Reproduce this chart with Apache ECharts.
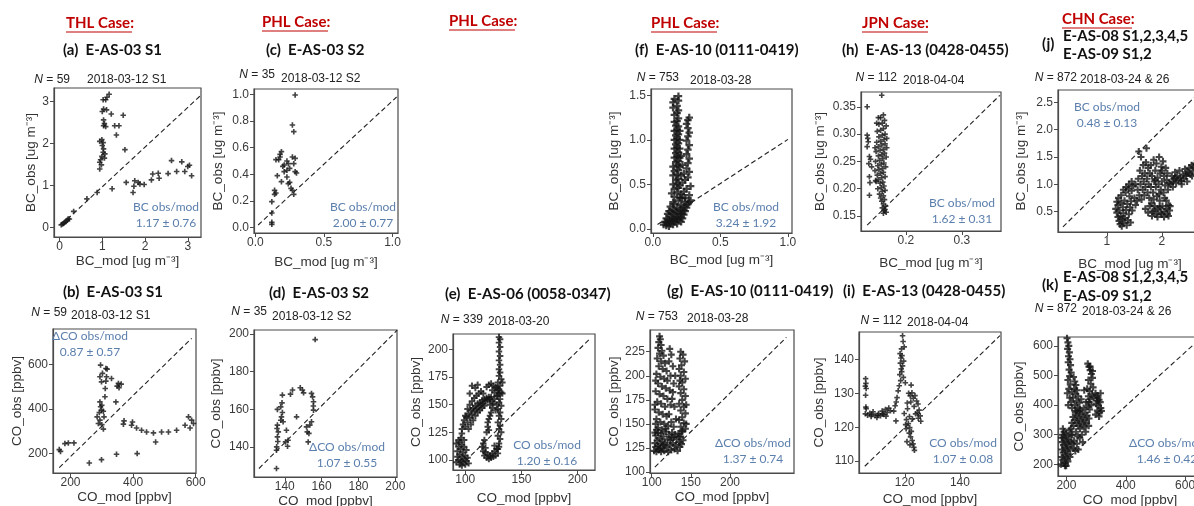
<!DOCTYPE html>
<html>
<head>
<meta charset="utf-8">
<script src="https://cdn.jsdelivr.net/npm/echarts@6/dist/echarts.min.js"></script>
<style>
  html, body { margin: 0; padding: 0; background: #fff; }
  #main { width: 1194px; height: 506px; }
</style>
</head>
<body>
<div id="main"></div>
<script>
const ptsA = [[0.04,0.06],[0.07,0.08],[0.1,0.1],[0.12,0.12],[0.15,0.14],[0.18,0.17],[0.2,0.2],[0.23,0.2],[0.33,0.38],[0.64,0.68],[0.88,0.83],[0.94,1.39],
  [1.02,3.04],[1.08,3.04],[1.11,3.1],[1.16,3.17],[1.03,2.82],[1.1,2.8],[1.0,2.76],[1.21,2.7],[1.49,2.67],[1.03,2.56],[1.05,2.47],[1.08,2.4],[1.03,2.42],[1.29,2.42],[1.39,2.42],[1.33,2.2],[0.99,2.09],[0.94,2.05],[1.02,2.02],[1.53,1.85],[1.03,1.87],[1.02,1.79],[1.06,1.75],[0.99,1.69],[0.96,1.61],[0.94,1.55],[0.98,1.49],[1.05,1.65],[1.0,1.95],
  [1.23,0.92],[1.56,1.07],[1.74,0.98],[1.76,1.11],[1.84,1.07],[1.88,1.03],[1.72,0.83],[1.98,1.02],[2.15,1.13],[2.18,1.27],[2.31,1.29],[2.33,1.17],[2.54,1.28],[2.62,1.59],[2.74,1.33],[2.86,1.56],[2.93,1.33],[3.0,1.45],[3.04,1.48],[3.09,1.23]];
const ptsC = [[0.29,0.995],[0.27,0.77],[0.28,0.72],[0.19,0.57],[0.18,0.55],[0.18,0.53],[0.17,0.51],[0.15,0.51],[0.27,0.53],[0.29,0.52],[0.28,0.48],[0.23,0.5],[0.24,0.48],[0.21,0.47],[0.2,0.46],[0.25,0.445],[0.23,0.43],[0.21,0.42],[0.29,0.42],[0.3,0.41],[0.16,0.39],[0.23,0.38],[0.19,0.345],[0.25,0.34],[0.24,0.33],[0.26,0.295],[0.27,0.28],[0.28,0.25],[0.14,0.28],[0.15,0.26],[0.14,0.25],[0.12,0.195],[0.12,0.11],[0.12,0.04],[0.12,0.025]];
const ptsF = [[0.08,0.05],[0.09,0.08],[0.1,0.04],[0.1,0.12],[0.11,0.07],[0.11,0.17],[0.12,0.03],[0.12,0.1],[0.12,0.2],[0.13,0.06],[0.13,0.14],[0.13,0.25],[0.14,0.09],[0.14,0.18],[0.15,0.05],[0.15,0.12],[0.15,0.22],[0.16,0.08],[0.16,0.16],[0.16,0.28],[0.17,0.11],[0.17,0.2],[0.18,0.06],[0.18,0.14],[0.18,0.24],[0.19,0.1],[0.19,0.18],[0.2,0.13],[0.2,0.22],[0.21,0.08],[0.21,0.17],[0.21,0.27],[0.22,0.12],[0.22,0.21],[0.23,0.16],[0.23,0.25],[0.24,0.2],[0.24,0.3],[0.25,0.24],[0.26,0.28],[0.27,0.3],[0.28,0.32],
  [0.15,0.3],[0.19,0.32],[0.16,0.36],[0.2,0.35],[0.14,0.4],[0.18,0.41],[0.21,0.39],[0.16,0.45],[0.19,0.46],[0.15,0.5],[0.18,0.51],[0.2,0.49],[0.17,0.55],[0.19,0.56],[0.15,0.6],[0.18,0.61],[0.21,0.6],[0.16,0.65],[0.19,0.66],[0.15,0.7],[0.18,0.71],[0.2,0.7],[0.17,0.75],[0.19,0.76],[0.16,0.8],[0.18,0.81],[0.2,0.8],[0.17,0.85],[0.19,0.86],[0.16,0.9],[0.18,0.91],[0.2,0.9],[0.17,0.95],[0.19,0.96],[0.16,1.0],[0.18,1.01],[0.2,1.0],[0.17,1.05],[0.19,1.06],[0.16,1.1],[0.18,1.11],[0.2,1.1],[0.17,1.16],[0.19,1.15],[0.16,1.2],[0.18,1.21],[0.19,1.24],[0.16,1.28],[0.18,1.3],[0.19,1.33],[0.15,1.36],[0.18,1.38],[0.15,1.42],[0.19,1.44],[0.16,1.46],[0.19,1.49],
  [0.24,0.35],[0.27,0.38],[0.25,0.45],[0.28,0.48],[0.24,0.55],[0.26,0.58],[0.27,0.64],[0.25,0.68],[0.26,0.74],[0.27,0.79],[0.25,0.84],[0.26,0.89],[0.27,0.94],[0.25,0.99],[0.26,1.04],[0.27,1.08],[0.26,1.13],[0.25,1.18],[0.26,1.22],[0.27,1.25],[0.22,0.35],[0.23,0.42],[0.22,0.52],[0.23,0.62],[0.22,0.72],[0.21,0.82]];
const ptsH = [[0.131,0.35],[0.131,0.298],[0.132,0.292],[0.133,0.286],[0.131,0.277],[0.135,0.259],[0.137,0.254],[0.134,0.246],[0.139,0.24],[0.135,0.222],[0.136,0.211],[0.135,0.188],[0.157,0.371],
  [0.16,0.335],[0.155,0.33],[0.162,0.325],[0.158,0.32],[0.152,0.318],[0.165,0.315],[0.16,0.31],[0.155,0.307],[0.149,0.305],[0.163,0.3],[0.158,0.298],[0.152,0.295],[0.166,0.292],[0.161,0.29],[0.155,0.287],[0.148,0.285],[0.163,0.282],[0.157,0.28],[0.151,0.277],[0.166,0.275],[0.16,0.272],[0.154,0.27],[0.147,0.268],[0.162,0.265],[0.157,0.262],[0.151,0.26],[0.165,0.258],[0.159,0.255],[0.153,0.252],[0.146,0.25],[0.161,0.247],[0.156,0.245],[0.15,0.242],[0.164,0.24],[0.158,0.237],[0.152,0.235],[0.145,0.233],[0.16,0.23],[0.155,0.228],[0.149,0.225],[0.163,0.222],[0.157,0.22],[0.151,0.217],[0.147,0.213],[0.159,0.212],[0.154,0.21],[0.161,0.205],[0.156,0.202],[0.15,0.2],[0.163,0.197],[0.158,0.195],[0.153,0.19],[0.16,0.187],[0.155,0.183],[0.162,0.18],[0.157,0.177],[0.16,0.172],[0.164,0.168],[0.158,0.165],[0.161,0.16],[0.165,0.157],[0.16,0.155],[0.163,0.162],[0.145,0.275],[0.146,0.215],[0.148,0.32],[0.151,0.33]];
const ptsJ = [[1.16,0.55],[1.18,0.48],[1.18,0.68],[1.2,0.4],[1.2,0.62],[1.21,0.75],[1.22,0.33],[1.23,0.52],[1.24,0.27],[1.25,0.42],[1.25,0.66],[1.26,0.8],[1.27,0.23],[1.28,0.36],[1.29,0.58],[1.3,0.29],[1.3,0.47],[1.32,0.7],[1.33,0.38],[1.34,0.85],[1.35,0.53],[1.36,0.25],[1.37,0.64],[1.38,0.34],[1.39,0.92],[1.4,0.45],[1.41,0.78],[1.42,0.58],[1.43,0.3],[1.44,0.69],[1.45,0.88],[1.46,0.52],[1.48,0.97],[1.5,0.75],[1.52,0.62],[1.52,1.0],[1.35,0.95],[1.4,1.0],[1.3,0.9],[1.45,1.05],
  [1.55,0.7],[1.56,0.9],[1.57,1.1],[1.58,1.6],[1.59,0.8],[1.6,1.25],[1.61,1.0],[1.62,1.5],[1.63,0.72],[1.64,1.15],[1.65,0.9],[1.66,1.35],[1.67,1.05],[1.68,0.8],[1.69,1.2],[1.7,0.95],[1.71,1.4],[1.72,1.66],[1.73,1.1],[1.74,0.85],[1.75,1.3],[1.76,1.0],[1.77,0.75],[1.78,1.2],
  [1.8,0.95],[1.8,1.35],[1.81,0.65],[1.82,1.15],[1.83,0.5],[1.84,0.85],[1.85,1.45],[1.86,1.05],[1.87,0.6],[1.88,1.25],[1.89,0.95],[1.9,0.45],[1.9,1.38],[1.91,0.78],[1.92,1.12],[1.93,0.55],[1.94,1.0],[1.95,1.5],[1.96,0.7],[1.97,1.2],[1.98,0.48],[1.98,0.9],[1.99,1.32],[2.0,1.05],[2.01,0.6],[2.02,1.42],[2.03,0.85],[2.04,1.15],[2.05,0.5],[2.06,0.98],[2.07,1.3],[2.08,0.7],[2.09,1.08],[2.1,0.45],[2.1,1.2],[2.11,0.9],[2.12,0.62],[2.13,1.02],[2.14,0.52],
  [1.7,0.55],[1.75,0.48],[1.78,0.6],[1.82,0.42],[1.86,0.52],[1.92,0.4],[1.96,0.58],[2.0,0.45],[2.04,0.4],[2.08,0.55],[2.12,0.42],[2.15,0.6],
  [2.16,1.0],[2.18,1.15],[2.2,0.95],[2.22,1.1],[2.24,1.22],[2.26,1.02],[2.28,1.15],[2.3,1.08],[2.32,1.25],[2.34,1.12],[2.36,1.0],[2.38,1.18],[2.4,1.1],[2.42,1.28],[2.44,1.15],[2.46,1.05],[2.48,1.22],[2.5,1.3],[2.52,1.18],[2.54,1.35],[2.56,1.25],[2.58,1.32],[2.6,1.38],
  [2.2,1.05],[2.25,1.12],[2.35,1.06],[2.45,1.2],[2.55,1.15],[1.85,0.72],[1.95,0.82],[2.05,0.75],[1.88,1.08],[2.0,1.25]];
const ptsB = [[164,218],[168,210],[182,245],[193,248],[211,248],[260,158],[299,173],[347,197],[413,200],[472,252],
  [289,335],[294,350],[285,365],[292,384],[299,395],[305,390],[296,410],[300,417],[294,432],[307,365],[299,522],[294,545],[302,560],[313,582],[317,579],[296,597],[315,545],[313,525],[311,492],[310,455],[331,537],[349,503],[355,496],[345,432],[353,515],[362,512],
  [371,347],[369,332],[395,327],[398,342],[411,315],[427,305],[443,297],[465,293],[491,297],[513,297],[539,305],[566,327],[582,315],[593,335],[577,365],[587,350],[305,310],[300,330]];
const ptsD = [[156.5,197],[136,160],[138.7,167.6],[138.5,163.5],[137.8,161.4],[144.2,170.3],[143.1,168.1],[148.4,171.5],[149.6,170.3],[150.2,168.8],[154.5,168.5],[155.1,166.7],[155.6,164.1],[155.5,161.8],[155.6,159.6],[136,151.7],[135.8,149.9],[136.5,148.1],[136,145.5],[136.2,143],[135.6,140.2],[135.5,138.4],[135.5,128.7],[138.7,158.4],[138.2,156.1],[137.8,154.3],[139.1,153.5],[140.9,149],[141.8,143.7],[140.4,142.8],[141.5,140.5],[146.4,156.1],[151.8,150.8],[152.2,148.1],[153.6,151.7],[153.1,147.3],[154.5,153.5],[152.7,142.8]];
const ptsE = [[92,98],[93,103],[93,108],[94,100],[94,112],[95,96],[95,105],[95,116],[96,99],[96,110],[96,120],[97,95],[97,103],[97,114],[98,98],[98,107],[99,101],[99,112],[100,96],[100,104],[101,99],[101,109],[102,102],[103,97],[94,118],[97,124],[99,118],[92,115],
  [97,128],[98,132],[99,136],[100,130],[101,139],[102,134],[103,142],[104,138],[105,145],[106,141],[107,147],[108,144],[109,149],[110,146],[111,151],[112,148],[113,152],[114,150],[115,154],[116,151],[117,155],[118,153],[119,156],[120,154],[121,157],[122,155],[123,157],
  [100,140],[102,146],[104,150],[106,153],[108,156],[110,158],[112,160],[114,162],[116,160],[103,128],[105,132],[107,136],[109,140],[111,143],[113,145],[115,147],[117,149],
  [106,167],[109,165],[111,168],[104,160],[119,166],[121,168],[123,169],[125,167],[127,166],[129,163],[130,160],[128,158],[126,161],[124,163],
  [126,155],[125,151],[124,147],[123,143],[122,140],[121,137],[120,134],[120,130],[121,127],[119,125],[122,150],[124,153],
  [115,112],[116,108],[117,104],[118,107],[119,102],[120,105],[121,101],[122,104],[123,102],[124,106],[125,103],[126,108],[127,104],[128,110],[129,106],[130,112],[118,111],[116,115],[117,118],[126,113],
  [129,110],[130,115],[131,119],[129,122],[132,125],[130,128],[131,131],[129,134],[132,137],[130,140],[131,143],[129,146],[132,149],[130,152],[131,155],[129,158],[132,161],[130,164],[131,167],[129,170],[132,173],[130,176],[131,179],[130,182],[131,186],[130,190],[131,194],[130,198],[131,202],[130,206],[131,209],[130,211],[128,150],[127,145],[133,160],[133,170],[128,165]];
const ptsG = [[103,122],[104,130],[105,126],[105,138],[106,121],[107,133],[108,127],[108,141],[109,123],[110,135],[111,129],[112,121],[112,140],[113,132],[114,125],[115,137],[116,122],[117,130],[118,142],[119,126],[120,134],[121,121],[122,139],[123,128],[124,133],[125,123],[126,141],[127,130],[128,136],[129,124],[130,139],[131,128],[132,134],[133,122],[134,140],[135,131],[136,126],[137,137],[138,129],[139,142],[140,133],[104,141],[106,144],[110,124],[115,128],[125,136],[135,137],
  [110,241],[111,238],[109,235],[112,232],[108,229],[113,226],[110,223],[115,221],[107,218],[112,215],[117,213],[109,210],[114,207],[119,205],[106,202],[111,199],[116,197],[120,195],[108,192],[113,189],[118,187],[105,184],[110,181],[115,179],[120,176],[107,173],[112,171],[117,168],[104,165],[109,162],[114,160],[119,158],[106,155],[111,152],[116,150],[121,148],[108,146],[113,144],[118,145],[105,150],[104,170],[105,195],
  [123,228],[125,222],[122,215],[127,210],[124,200],[128,192],[123,185],[126,176],[129,168],[122,160],[125,152],[128,147],[131,155],[124,170],[127,183],[130,200],
  [137,225],[140,222],[136,218],[142,215],[138,211],[135,207],[141,204],[137,200],[143,197],[139,193],[135,189],[141,186],[137,182],[143,179],[139,175],[135,171],[141,168],[137,164],[143,161],[139,157],[135,154],[141,151],[137,147],[143,145],[139,143],[144,150],[144,170],[136,195]];
const ptsI = [[105.8,134.4],[105.9,133],[105.7,132.2],[106,131.5],[105.8,129.5],[105.9,126],[106,125.5],[105.7,124],
  [106.5,123.6],[107.3,124.2],[107.8,123.2],[108.5,124.6],[109.2,123.5],[109.9,122.9],[110.5,124.1],[111.2,123.4],[111.8,124.8],[112.4,123.8],[113,125.3],[113.6,124.4],[114.2,125.7],[114.8,124.9],[108,123.8],[110.2,123.6],[112,124],[113.2,123.3],
  [119.2,147.1],[119.4,145.4],[118.8,143.2],[119,141.2],[118.6,140.5],[118.4,139],[119.2,138.2],[118.7,137.3],[118.9,136.5],[118.2,135.6],[119.5,134.8],[118.5,133.8],[118,132.3],[117.6,130.8],[117.2,128.8],[116.9,127.5],[116.5,126.4],[116,124.8],[116.8,121.9],[119.6,139.6],[118.3,141.8],[119.8,143.8],
  [120.2,133.2],[121.4,130.1],[122,129.3],[122.6,130.2],[123.1,128.6],[123.7,129.4],[124.3,127.8],[124.8,126.9],[125.2,125.1],[125.6,123.4],[124.6,124.4],[123.4,126.2],[122.2,127.5],[121,125.5],[120.6,122.3],[121.3,121.1],[121.8,119.9],[120.5,119.6],[121.6,118.3],[122.1,117.2],[122.7,116.1],[123,115.1],[123.3,114.1],[123.5,113.2],[122.4,118.8],[120.8,115.8],[121.9,114.8],[125.8,121.8],[124.9,122.7],[123.9,124],[122.8,122.5],[121.7,123.2],[120.3,120.8],[119.8,124.1],[120.9,127.2],[122.3,132.5]];
const ptsK = [[182,200],[184,225],[185,250],[186,275],[187,300],[188,215],[189,240],[190,265],[191,290],[192,310],[194,205],[195,230],[196,255],[197,280],[198,305],[199,195],[200,220],[201,245],[202,270],[203,295],[205,210],[206,235],[207,260],[208,285],[210,315],[212,225],[213,250],[214,275],[216,300],[184,290],[188,320],[195,195],
  [202,626],[205,612],[208,600],[204,590],[210,578],[207,565],[212,555],[206,545],[214,535],[209,520],[216,510],[211,498],[205,485],[213,470],[208,455],[218,445],[203,440],[211,425],[216,410],[206,400],[219,390],
  [224,495],[228,480],[232,468],[226,455],[236,450],[230,438],[240,430],[222,425],[234,415],[244,408],[228,400],[238,392],[246,385],[232,380],
  [215,320],[218,340],[220,300],[222,360],[224,330],[226,280],[228,350],[230,375],[232,310],[234,340],[236,365],[238,295],[240,330],[242,355],[244,380],[246,320],[248,345],[250,370],[252,300],[254,335],[256,360],[258,390],[260,325],[262,350],[264,375],[266,410],[268,340],[270,365],[272,395],[274,430],[276,355],[278,385],[280,420],[225,255],[235,270],[245,290],[255,275],[265,310],[275,330],[260,450],[270,455],[250,420],[240,250],[230,245],[220,270],
  [272,540],[276,530],[280,518],[284,505],[288,492],[274,485],[282,472],[290,460],[278,448],[286,436],[292,425],[276,410],[284,400],[280,530],[288,515],
  [298,440],[302,432],[306,425],[310,418],[314,410],[300,405],[308,398],[316,390],[304,382],[312,375],[298,368],[310,362],[318,380],[315,440],[303,415]];

// 1:1 reference line end points
const diagA = [[0.04,0.06],[3.3,3.14]];
const diagC = [[0.02,0.02],[1.03,0.98]];
const diagF = [[0.035,0.05],[1.0,1.005]];
const diagH = [[0.131,0.1335],[0.368,0.371]];
const diagJ = [[0.2,0.22],[2.73,2.73]];
const diagB = [[164,137],[587,717]];
const diagD = [[126,128.7],[201,202]];
const diagE = [[95,94],[210.4,209]];
const diagG = [[104,105],[272,240]];
const diagI = [[105.5,108.5],[154.5,147.1]];
const diagK = [[172,190],[657,630]];

// tick values
const ticksA = [0, 1, 2, 3];
const ticksC_x = [0, 0.5, 1], ticksC_y = [0, 0.2, 0.4, 0.6, 0.8, 1.0];
const ticksF_x = [0, 0.5, 1], ticksF_y = [0, 0.5, 1, 1.5];
const ticksH_x = [0.2, 0.3], ticksH_y = [0.15, 0.2, 0.25, 0.3, 0.35];
const ticksJ_x = [1, 2, 3], ticksJ_y = [0.5, 1, 1.5, 2, 2.5];
const ticksB = [200, 400, 600];
const ticksD = [140, 160, 180, 200];
const ticksE_x = [100, 150, 200], ticksE_y = [100, 125, 150, 175, 200];
const ticksG_x = [100, 150, 200], ticksG_y = [100, 125, 150, 175, 200, 225];
const ticksI_x = [120, 140], ticksI_y = [110, 120, 130, 140];
const ticksK_x = [200, 400, 600], ticksK_y = [200, 300, 400, 500, 600];

// ratio notes, counts and dates
const ratioLabels = ['BC obs/mod', 'BC obs/mod', 'BC obs/mod', 'BC obs/mod', 'BC obs/mod', 'ΔCO obs/mod', 'ΔCO obs/mod', 'CO obs/mod', 'ΔCO obs/mod', 'CO obs/mod', 'ΔCO obs/mod'];
const ratioValues = ['1.17 ± 0.76', '2.00 ± 0.77', '3.24 ± 1.92', '1.62 ± 0.31', '0.48 ± 0.13', '0.87 ± 0.57', '1.07 ± 0.55', '1.20 ± 0.16', '1.37 ± 0.74', '1.07 ± 0.08', '1.46 ± 0.42'];
const counts = [59, 35, 753, 112, 872, 59, 35, 339, 753, 112, 872];
const dates = ['2018-03-12 S1', '2018-03-12 S2', '2018-03-28', '2018-04-04', '2018-03-24 & 26', '2018-03-12 S1', '2018-03-12 S2', '2018-03-20', '2018-03-28', '2018-04-04', '2018-03-24 & 26'];

const BCX = 'BC_mod [ug m⁻³]', BCY = 'BC_obs [ug m⁻³]', COX = 'CO_mod [ppbv]', COY = 'CO_obs [ppbv]';

// layout: box = [left, top, width, height]; note = centre of ratio text; nt = [N right end, N y, date left, date y]; ms = marker size
const panels = [
  {pts: ptsA, diag: diagA, box: [54, 88, 147, 149], xr: [-0.13, 3.31], yr: [-0.23, 3.32], xt: ticksA, yt: ticksA, xd: 0, yd: 0, xn: BCX, yn: BCY, xnd: 24, ynd: 22, note: [166, 207], nt: [70, 80, 87, 80], ms: 5.5},
  {pts: ptsC, diag: diagC, box: [254, 89, 144, 144], xr: [-0.01, 1.04], yr: [-0.04, 1.04], xt: ticksC_x, yt: ticksC_y, xd: 1, yd: 1, xn: BCX, yn: BCY, xnd: 29, ynd: 35, note: [363, 207], nt: [275, 75, 281, 79], ms: 5.5},
  {pts: ptsF, diag: diagF, box: [651, 89, 141, 144], xr: [-0.013, 1.03], yr: [-0.045, 1.57], xt: ticksF_x, yt: ticksF_y, xd: 1, yd: 1, xn: BCX, yn: BCY, xnd: 27, ynd: 36, note: [746, 207], nt: [679, 78, 690, 81], ms: 7.5},
  {pts: ptsH, diag: diagH, box: [861, 92, 140, 139], xr: [0.12, 0.37], yr: [0.1226, 0.377], xt: ticksH_x, yt: ticksH_y, xd: 1, yd: 2, xn: BCX, yn: BCY, xnd: 32, ynd: 40, note: [962, 203], nt: [897, 78, 903, 81], ms: 5.5},
  {pts: ptsJ, diag: diagJ, box: [1058, 90, 144, 142], xr: [0.11, 2.73], yr: [0.126, 2.726], xt: ticksJ_x, yt: ticksJ_y, xd: 0, yd: 1, xn: BCX, yn: BCY, xnd: 32, ynd: 36, note: [1107, 107], nt: [1077, 78, 1080, 80], ms: 7},
  {pts: ptsB, diag: diagB, box: [53, 329, 143, 144], xr: [144, 601], yr: [113, 759], xt: ticksB, yt: ticksB, xd: 0, yd: 0, xn: COX, yn: COY, xnd: 22, ynd: 23, note: [90, 336], nt: [67, 313, 71, 316], ms: 5.5},
  {pts: ptsD, diag: diagD, box: [254, 330, 143, 147], xr: [123.3, 200.9], yr: [124.2, 202.1], xt: ticksD, yt: ticksD, xd: 0, yd: 0, xn: COX, yn: COY, xnd: 18, ynd: 37, note: [347, 447], nt: [267, 312, 272, 317], ms: 5.5},
  {pts: ptsE, diag: diagE, box: [453, 334, 142, 136], xr: [89.1, 215.4], yr: [91, 213.8], xt: ticksE_x, yt: ticksE_y, xd: 0, yd: 0, xn: COX, yn: COY, xnd: 28, ynd: 36, note: [547, 445], nt: [483, 320, 488, 322], ms: 6.5},
  {pts: ptsG, diag: diagG, box: [650, 330, 144, 143], xr: [97.8, 281.7], yr: [99, 247.6], xt: ticksG_x, yt: ticksG_y, xd: 0, yd: 0, xn: COX, yn: COY, xnd: 22, ynd: 33, note: [753, 443], nt: [678, 317, 687, 319], ms: 7},
  {pts: ptsI, diag: diagI, box: [859, 332, 142, 141], xr: [103.4, 154.9], yr: [106.5, 148.2], xt: ticksI_x, yt: ticksI_y, xd: 0, yd: 0, xn: COX, yn: COY, xnd: 26, ynd: 39, note: [963, 443], nt: [902, 321, 907, 323], ms: 5.5},
  {pts: ptsK, diag: diagK, box: [1058, 337, 144, 139], xr: [171.6, 657], yr: [160.7, 630], xt: ticksK_x, yt: ticksK_y, xd: 0, yd: 0, xn: COX, yn: COY, xnd: 21, ynd: 38, note: [1167, 443], nt: [1077, 309, 1082, 312], ms: 7}
];

const cases = [['THL Case:', 66, 23], ['PHL Case:', 262, 22], ['PHL Case:', 449, 21], ['PHL Case:', 651, 23], ['JPN Case:', 862, 23], ['CHN Case:', 1062, 19]];
const titles = [['(a)  E-AS-03 S1', 63, 50], ['(c)  E-AS-03 S2', 266, 50], ['(f)  E-AS-10 (0111-0419)', 635, 50], ['(h)  E-AS-13 (0428-0455)', 842, 50],
  ['(b)  E-AS-03 S1', 63, 292], ['(d)  E-AS-03 S2', 269, 293], ['(e)  E-AS-06 (0058-0347)', 445, 294], ['(g)  E-AS-10 (0111-0419)', 667, 291], ['(i)  E-AS-13 (0428-0455)', 843, 291],
  ['(j)', 1042, 44], ['E-AS-08 S1,2,3,4,5', 1063, 36], ['E-AS-09 S1,2', 1063, 54],
  ['(k)', 1042, 285], ['E-AS-08 S1,2,3,4,5', 1063, 277], ['E-AS-09 S1,2', 1063, 296]];

const AX_FONT = '"Liberation Sans", Arial, sans-serif';
const HEAD_FONT = 'Lato, "Open Sans", sans-serif';
const NAME_FS = 13.5;
const PLUS = 'path://M3.5,0H6.5V3.5H10V6.5H6.5V10H3.5V6.5H0V3.5H3.5Z';

function axis(i, range, ticks, dec, name, dist, dim) {
  return {
    gridIndex: i, type: 'value', min: range[0], max: range[1],
    position: dim === 'x' ? 'bottom' : 'left',
    splitLine: {show: false},
    axisLine: {show: true, onZero: false, lineStyle: {color: '#4a4a4a', width: 1.2}},
    axisTick: {show: true, customValues: ticks, length: 4, lineStyle: {color: '#4a4a4a'}},
    axisLabel: {show: true, customValues: ticks, formatter: v => Number(v).toFixed(dec), fontSize: 12, color: '#3a3a3a', margin: dim === 'x' ? 4 : 5, fontFamily: AX_FONT},
    name: name, nameLocation: 'middle', nameGap: dist - NAME_FS / 2,
    nameTextStyle: {fontSize: NAME_FS, color: '#333', fontFamily: AX_FONT}
  };
}

function text(x, y, str, st) {
  return {type: 'text', x: x, y: y, silent: true, z: 100,
    style: Object.assign({text: str, fill: '#222', fontFamily: AX_FONT, fontSize: 12,
      align: 'left', verticalAlign: 'middle', textAlign: 'left', textVerticalAlign: 'middle'}, st)};
}

const grids = [], xAxes = [], yAxes = [], series = [], graphics = [];
panels.forEach((p, i) => {
  grids.push({left: p.box[0], top: p.box[1], width: p.box[2], height: p.box[3], show: true,
    borderColor: '#4a4a4a', borderWidth: 1.2, backgroundColor: 'transparent', containLabel: false, outerBoundsMode: 'none'});
  xAxes.push(axis(i, p.xr, p.xt, p.xd, p.xn, p.xnd, 'x'));
  yAxes.push(axis(i, p.yr, p.yt, p.yd, p.yn, p.ynd, 'y'));
  series.push({type: 'scatter', xAxisIndex: i, yAxisIndex: i, data: p.pts, symbol: PLUS, symbolSize: p.ms,
    itemStyle: {color: '#141414'}, silent: true, clip: true});
  series.push({type: 'line', xAxisIndex: i, yAxisIndex: i, data: p.diag, symbol: 'none', silent: true,
    lineStyle: {color: '#222', width: 1.1, type: [5, 3]}});
  const c = {align: 'center', textAlign: 'center', fill: '#5b7fad', fontFamily: HEAD_FONT, fontSize: 12};
  graphics.push(text(p.note[0], p.note[1], ratioLabels[i], c));
  graphics.push(text(p.note[0], p.note[1] + 16, ratioValues[i], c));
  graphics.push(text(p.nt[0], p.nt[1], '{i|N} = ' + counts[i], {align: 'right', textAlign: 'right',
    rich: {i: {fontStyle: 'italic', fontFamily: AX_FONT, fontSize: 12}}}));
  graphics.push(text(p.nt[2], p.nt[3], dates[i], {}));
});

cases.forEach(c => {
  graphics.push(text(c[1], c[2], c[0], {fill: '#c00000', fontFamily: HEAD_FONT, fontWeight: 'bold', fontSize: 15}));
  graphics.push({type: 'line', silent: true, shape: {x1: c[1], y1: c[2] + 9, x2: c[1] + (c[0][0] === 'C' ? 70 : 66), y2: c[2] + 9},
    style: {stroke: '#c00000', lineWidth: 1.2}});
});
titles.forEach(t => {
  graphics.push(text(t[1], t[2], t[0], {fill: '#111', fontFamily: HEAD_FONT, fontWeight: 'bold', fontSize: 15}));
});

const chart = echarts.init(document.getElementById('main'), null, {renderer: 'canvas'});
chart.setOption({
  animation: false,
  backgroundColor: '#fff',
  grid: grids, xAxis: xAxes, yAxis: yAxes, series: series,
  graphic: {elements: graphics}
});
</script>
</body>
</html>
